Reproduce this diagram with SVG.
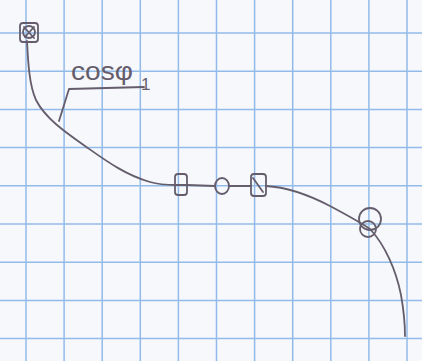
<svg xmlns="http://www.w3.org/2000/svg" width="422" height="361" viewBox="0 0 422 361">
<style>
.grid line{stroke:#92bbea;stroke-width:1.5}
.ink{fill:none;stroke:#655d6c;stroke-width:1.8;stroke-linecap:round;stroke-linejoin:round}
.lbl{font-family:"Liberation Sans",Arial,sans-serif;fill:#655d6c}
</style>
<rect width="422" height="361" fill="#f6f8fc"/>
<g class="grid">
<line x1="26" y1="0" x2="26" y2="361"/><line x1="64.1" y1="0" x2="64.1" y2="361"/><line x1="102.2" y1="0" x2="102.2" y2="361"/><line x1="140.3" y1="0" x2="140.3" y2="361"/><line x1="178.4" y1="0" x2="178.4" y2="361"/><line x1="216.5" y1="0" x2="216.5" y2="361"/><line x1="254.6" y1="0" x2="254.6" y2="361"/><line x1="292.7" y1="0" x2="292.7" y2="361"/><line x1="330.8" y1="0" x2="330.8" y2="361"/><line x1="368.9" y1="0" x2="368.9" y2="361"/><line x1="407" y1="0" x2="407" y2="361"/>
<line x1="0" y1="33" x2="422" y2="33"/><line x1="0" y1="71.2" x2="422" y2="71.2"/><line x1="0" y1="109.4" x2="422" y2="109.4"/><line x1="0" y1="147.6" x2="422" y2="147.6"/><line x1="0" y1="185.8" x2="422" y2="185.8"/><line x1="0" y1="224" x2="422" y2="224"/><line x1="0" y1="262.2" x2="422" y2="262.2"/><line x1="0" y1="300.4" x2="422" y2="300.4"/><line x1="0" y1="338.6" x2="422" y2="338.6"/>
</g>
<g id="connectors">
<path class="ink" d="M27,41 C28,60 29,85 36,100 C45,118 65,132 85,146 C105,160 125,175 150,182 C160,185 170,185 176,185"/>
<path class="ink" d="M187,185 L215,186"/>
<path class="ink" d="M229,186 L251,186"/>
<path class="ink" d="M266,186 C285,187 305,193 330,206 C345,214 360,222 370,229 C385,245 396,270 401,295 C404,312 405,325 405,336"/>
<path class="ink" d="M59,121 L69,89 L144,87"/>
</g>
<g id="label">
<text class="lbl" x="71" y="80" font-size="26" textLength="62" lengthAdjust="spacingAndGlyphs">cosφ</text>
<text class="lbl" x="141" y="90" font-size="17">1</text>
</g>
<g id="node-start">
<rect class="ink" x="20" y="23" width="18" height="19" rx="3"/>
<circle class="ink" cx="29" cy="32" r="6"/>
<path class="ink" d="M24,27 L34,38 M34,27 L25,37"/>
</g>
<g id="node-box1">
<rect class="ink" x="175" y="174" width="12" height="21" rx="3"/>
<path class="ink" d="M176,185 L186,185"/>
</g>
<g id="node-circle">
<ellipse class="ink" cx="222" cy="186" rx="7" ry="8"/>
</g>
<g id="node-box2">
<rect class="ink" x="251" y="174" width="15" height="22" rx="3"/>
<path class="ink" d="M253,178 L263,192"/>
</g>
<g id="node-end-loop">
<ellipse class="ink" cx="370" cy="219" rx="11" ry="11"/>
<ellipse class="ink" cx="368" cy="229" rx="8" ry="8"/>
</g>
</svg>
